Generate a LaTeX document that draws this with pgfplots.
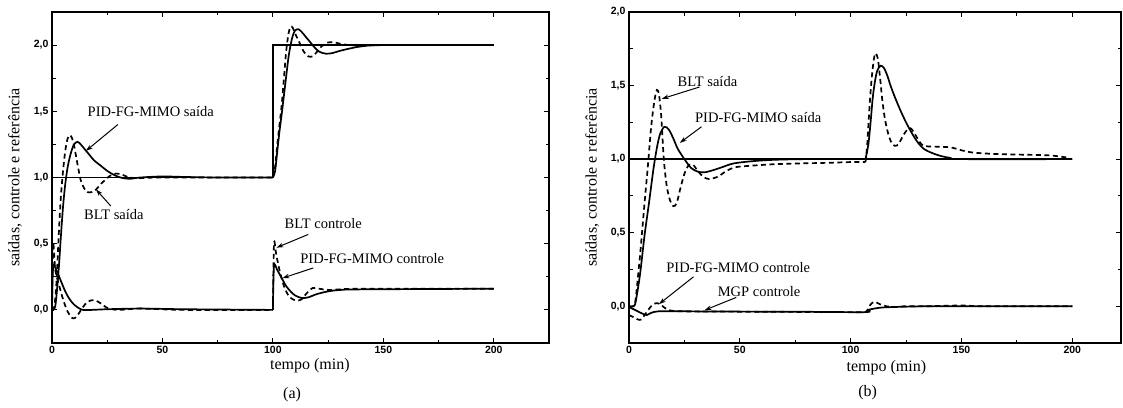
\documentclass[border=0pt]{standalone}
\usepackage{fontspec}
\setmainfont{Liberation Serif}
\newfontfamily\tickfont{Liberation Sans}
\usepackage{pgfplots}
\pgfplotsset{compat=1.18}
\usetikzlibrary{arrows.meta}
\tikzset{
 ann/.style={font=\fontsize{14.5}{16}\selectfont, anchor=center, inner sep=0pt},
 arr/.style={-{Stealth[length=7pt,width=4.5pt]}, line width=1pt},
}
\pgfplotsset{
 mystyle/.style={
  scale only axis, anchor=south west, height=331pt,
  axis line style={line width=1.8pt},
  tick align=inside, major tick length=5pt, minor tick length=3.5pt,
  every tick/.style={black, line width=1pt},
  minor x tick num=1, minor y tick num=1,
  xtick={0,50,100,150,200},
  tick label style={font=\tickfont\bfseries\fontsize{10.5}{12}\selectfont},
  /pgf/number format/assume math mode=true,
  yticklabel style={/pgf/number format/.cd, fixed, fixed zerofill, precision=1, use comma},
  xticklabel style={/pgf/number format/.cd, fixed, precision=0},
  clip=false,
  label style={font=\fontsize{16}{18}\selectfont},
  ylabel={saídas, controle e referência},
  xlabel={tempo (min)},
 },
 sol/.style={black, line width=1.7pt, no marks},
 das/.style={black, line width=1.7pt, no marks, dash pattern=on 5pt off 3.5pt},
}
\begin{document}
\begin{tikzpicture}
\path[use as bounding box] (0,0) rectangle (1123pt,407pt);
% ---------------- (a) ----------------
\begin{axis}[mystyle, at={(52pt,64pt)}, width=497pt,
  xmin=0, xmax=225, ymin=-0.25, ymax=2.25, ytick={0,0.5,1,1.5,2},
  ylabel style={at={(axis description cs:-0.0744,0.5)}, anchor=center},
  xlabel style={at={(axis description cs:0.519,-0.0695)}, anchor=center}]
% reference
\addplot[sol] coordinates {(0,1) (100,1) (100,2) (200,2)};
% PID-FG-MIMO output
\addplot[sol, smooth] coordinates {(0,0)(1.5,0.03)(3,0.3)(4,0.55)(5,0.78)(6,0.95)(7,1.07)(8,1.15)(9,1.21)(10,1.25)(11.5,1.27)(13,1.25)(15,1.21)(17,1.17)(19,1.13)(22,1.09)(25,1.05)(28,1.02)(31,1.0)(35,0.99)(40,1.0)(50,1.008)(60,1.004)(75,1.0)(100,1.0)};
\addplot[sol, smooth] coordinates {(100,1)(101,1.05)(102,1.2)(103,1.35)(104,1.48)(105,1.62)(106,1.76)(107,1.9)(108,2.0)(109,2.07)(110,2.11)(111.5,2.12)(113,2.1)(115,2.06)(117,2.02)(119,1.98)(121,1.95)(124,1.935)(127,1.94)(130,1.955)(135,1.975)(140,1.99)(150,2.0)(200,2.0)};
% BLT output
\addplot[das, smooth] coordinates {(0,0)(1,0.02)(2,0.2)(3,0.55)(4,0.85)(5,1.05)(6,1.2)(7,1.29)(8,1.32)(9,1.3)(10,1.24)(11,1.15)(12,1.06)(13,0.98)(14.5,0.92)(16,0.89)(18,0.89)(20,0.91)(22,0.95)(24,0.98)(26,1.01)(29,1.03)(32,1.02)(35,1.0)(40,0.995)(50,1.0)(100,1.0)};
\addplot[das, smooth] coordinates {(100,1)(101,1.08)(102,1.25)(103,1.4)(104,1.55)(105,1.75)(106,1.95)(107,2.08)(108,2.14)(109,2.13)(110,2.09)(112,2.02)(114,1.95)(116,1.915)(118,1.915)(120,1.95)(122,1.99)(125,2.02)(128,2.02)(132,2.005)(140,1.995)(150,2.0)(200,2.0)};
% PID control
\addplot[sol, smooth] coordinates {(0,0)(0.5,0.32)(2,0.30)(4,0.22)(6,0.14)(8,0.08)(10,0.04)(12,0.015)(14,0.0)(18,0.0)(25,0.005)(40,0.01)(60,0.005)(100,0)};
\addplot[sol, smooth] coordinates {(100,0)(100.5,0.33)(102,0.30)(104,0.24)(106,0.18)(108,0.14)(110,0.11)(113,0.09)(116,0.095)(120,0.12)(125,0.14)(130,0.15)(140,0.155)(200,0.16)};
% BLT control
\addplot[das, smooth] coordinates {(0,0)(0.5,0.5)(1.5,0.3)(3,0.2)(5,0.08)(7,-0.01)(9,-0.06)(10.5,-0.06)(12,-0.03)(14,0.02)(16,0.06)(19,0.075)(22,0.05)(25,0.015)(30,0.0)(40,0.01)(60,0.0)(100,0.0)};
\addplot[das, smooth] coordinates {(100,0)(100.5,0.5)(101.5,0.42)(103,0.3)(105,0.18)(107,0.11)(109,0.08)(111,0.07)(113,0.08)(115,0.12)(118,0.165)(121,0.16)(125,0.15)(130,0.155)(140,0.16)(200,0.16)};
% annotations
\node[ann] at (axis cs:44.7,1.50) {PID-FG-MIMO saída};
\draw[arr] (axis cs:29.8,1.40) -- (axis cs:15.3,1.20);
\node[ann] at (axis cs:28,0.72) {BLT saída};
\draw[arr] (axis cs:26.6,0.785) -- (axis cs:19.9,0.91);
\node[ann] at (axis cs:122.8,0.65) {BLT controle};
\draw[arr] (axis cs:116,0.57) -- (axis cs:101.6,0.47);
\node[ann] at (axis cs:145,0.385) {PID-FG-MIMO controle};
\draw[arr] (axis cs:118.3,0.317) -- (axis cs:104.3,0.24);
\node[font=\fontsize{16}{18}\selectfont] at (axis description cs:0.483,-0.157) {(a)};
\end{axis}
% ---------------- (b) ----------------
\begin{axis}[mystyle, at={(629pt,64pt)}, width=492pt,
  xmin=0, xmax=222, ymin=-0.25, ymax=2, ytick={0,0.5,1,1.5,2},
  ylabel style={at={(axis description cs:-0.075,0.5)}, anchor=center},
  xlabel style={at={(axis description cs:0.523,-0.0755)}, anchor=center}]
\addplot[sol] coordinates {(0,1) (200,1)};
% PID output
\addplot[sol, smooth] coordinates {(0,0)(2,0.0)(3,0.03)(5,0.22)(7,0.48)(9,0.7)(11,0.93)(12.5,1.07)(14,1.17)(16,1.22)(18,1.2)(20,1.14)(22,1.07)(25,1.0)(28,0.94)(31,0.915)(34,0.91)(38,0.925)(42,0.945)(47,0.97)(55,0.985)(65,0.995)(80,1.0)(106.7,1.0)};
\addplot[sol, smooth] coordinates {(106.7,1.0)(108,1.1)(109,1.25)(110,1.42)(111,1.53)(112,1.6)(113.5,1.635)(115,1.62)(116.5,1.57)(118,1.5)(120,1.42)(122.5,1.33)(125,1.25)(127.5,1.18)(130,1.12)(133,1.07)(137,1.04)(141,1.02)(145,1.008)(150,1.0)(200,1.0)};
% BLT output
\addplot[das, smooth] coordinates {(0,0)(2,0.0)(3,0.05)(5,0.35)(7,0.7)(8.5,0.95)(10,1.22)(11.5,1.4)(12.6,1.47)(13.5,1.44)(14.5,1.3)(15.7,1.0)(17,0.82)(18.5,0.72)(20,0.68)(21.5,0.7)(23,0.79)(25,0.9)(27,0.96)(29,0.96)(31,0.92)(33.5,0.88)(36,0.865)(40,0.88)(44,0.92)(48,0.945)(55,0.955)(65,0.965)(75,0.97)(90,0.975)(100,0.98)(106.7,0.98)};
\addplot[das, smooth] coordinates {(106.7,0.98)(107.5,1.1)(108.5,1.35)(109.5,1.55)(110.5,1.68)(111.2,1.72)(112.3,1.68)(113.3,1.55)(114.3,1.4)(115.5,1.27)(117,1.17)(118.5,1.11)(120,1.09)(121.5,1.1)(123,1.14)(125,1.19)(127,1.21)(129,1.17)(131,1.12)(133,1.09)(138,1.085)(145,1.08)(150,1.06)(155,1.045)(165,1.035)(178,1.03)(190,1.025)(198,1.01)};
% controls
\addplot[sol, smooth] coordinates {(0,-0.005)(2,-0.02)(4,-0.035)(6,-0.05)(8,-0.06)(10,-0.045)(13,-0.035)(20,-0.034)(40,-0.036)(80,-0.038)(106.7,-0.04)(108,-0.025)(111,-0.015)(115,-0.008)(125,-0.003)(140,0.0)(200,0.0)};
\addplot[das, smooth] coordinates {(0,-0.06)(2,-0.075)(4,-0.09)(5.5,-0.09)(7.5,-0.05)(10,0.0)(12,0.02)(14,0.015)(16,-0.01)(19,-0.03)(25,-0.035)(50,-0.037)(100,-0.04)(106.7,-0.04)(108,-0.01)(109.5,0.02)(111,0.03)(113,0.015)(116,0.0)(120,-0.005)(125,0.0)(135,0.0)(150,0.005)(160,0.0)(200,0.0)};
% annotations
\node[ann] at (axis cs:35.4,1.53) {BLT saída};
\draw[arr] (axis cs:31.8,1.49) -- (axis cs:14.8,1.41);
\node[ann] at (axis cs:58.3,1.28) {PID-FG-MIMO saída};
\draw[arr] (axis cs:32.7,1.22) -- (axis cs:22.9,1.11);
\node[ann] at (axis cs:49.3,0.26) {PID-FG-MIMO controle};
\draw[arr] (axis cs:29.1,0.20) -- (axis cs:13.5,0.014);
\node[ann] at (axis cs:58.7,0.10) {MGP controle};
\draw[arr] (axis cs:48.4,0.06) -- (axis cs:34.1,-0.027);
\node[font=\fontsize{16}{18}\selectfont] at (axis description cs:0.485,-0.151) {(b)};
\end{axis}
\end{tikzpicture}
\end{document}
